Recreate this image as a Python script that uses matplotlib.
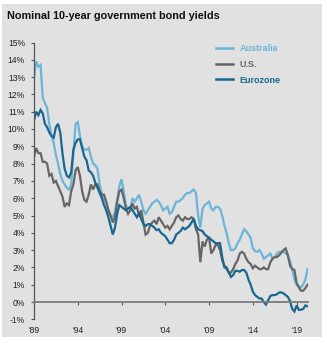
import numpy as np
import matplotlib
matplotlib.use("Agg")
import matplotlib.pyplot as plt
from matplotlib.patches import Rectangle

plt.rcParams['font.family'] = ['Liberation Sans', 'DejaVu Sans']

# quarterly 10-year yields (%), first quarter of 1989 onward
australia = [13.0, 13.9, 13.6, 13.7, 11.8, 11.5, 11.2, 10.3, 9.6, 9.2, 8.5, 8.0,
             7.4, 7.0, 6.8, 6.6, 6.5, 6.8, 8.6, 10.3, 10.4, 9.6, 9.0, 8.8,
             8.8, 8.9, 8.4, 8.0, 7.9, 7.7, 6.8, 6.3, 5.9, 5.7, 5.3, 5.0,
             4.9, 5.2, 5.9, 6.7, 7.1, 6.4, 5.6, 5.4, 5.4, 6.0, 5.8, 6.0,
             6.2, 5.8, 5.3, 5.1, 5.3, 5.5, 5.7, 5.8, 5.9, 5.8, 5.6, 5.3,
             5.4, 5.5, 5.1, 5.2, 5.5, 5.8, 5.8, 5.9, 6.0, 6.2, 6.3, 6.3,
             6.4, 6.5, 6.3, 5.0, 4.3, 5.4, 5.6, 5.7, 5.8, 5.4, 5.3, 5.5,
             5.5, 5.4, 5.0, 4.4, 4.0, 3.4, 3.0, 3.0, 3.1, 3.4, 3.6, 3.9,
             4.2, 4.1, 3.9, 3.7, 3.1, 2.95, 2.9, 3.0, 2.8, 2.5, 2.6, 2.7,
             2.8, 2.5, 2.6, 2.8, 2.9, 2.9, 2.9, 2.8, 2.7, 2.35, 1.9, 1.3,
             1.0, 0.9, 0.85, 1.0, 1.3, 1.9]
us = [8.4, 8.9, 8.6, 8.6, 8.1, 8.1, 8.0, 7.3, 7.4, 6.9, 7.0, 6.7,
      6.4, 6.1, 5.5, 5.7, 5.6, 6.4, 6.8, 7.6, 7.8, 7.3, 6.4, 5.9,
      5.8, 6.2, 6.8, 6.5, 6.8, 6.8, 6.4, 6.2, 6.2, 5.8, 5.3, 5.0,
      4.6, 4.9, 5.8, 6.4, 6.5, 6.0, 5.4, 5.1, 5.3, 5.7, 5.4, 5.5,
      5.0, 5.3, 4.6, 3.9, 4.0, 4.4, 4.6, 4.7, 4.5, 4.9, 4.7, 4.5,
      4.3, 4.4, 4.2, 4.4, 4.6, 4.9, 5.0, 4.8, 4.7, 4.9, 4.8, 4.8,
      4.9, 4.8, 4.2, 3.9, 2.3, 3.5, 3.2, 3.6, 3.7, 2.8, 3.0, 3.3,
      3.3, 3.0, 2.4, 2.1, 1.9, 1.7, 1.7, 1.9, 2.2, 2.4, 2.8, 2.9,
      2.8, 2.5, 2.3, 2.2, 1.95, 2.1, 2.0, 1.9, 1.9, 2.0, 1.9, 1.9,
      2.3, 2.5, 2.6, 2.6, 2.7, 2.85, 3.0, 3.1, 2.7, 2.1, 1.9, 1.85,
      1.1, 0.85, 0.65, 0.65, 0.8, 1.0]
eurozone = [10.5, 11.0, 10.8, 11.1, 10.9, 10.3, 10.1, 9.8, 9.6, 9.5, 10.1, 10.3,
            9.8, 8.6, 7.7, 7.3, 7.2, 7.5, 8.8, 9.2, 9.4, 9.4, 8.9, 8.4,
            8.2, 7.6, 7.5, 7.3, 6.9, 6.6, 6.3, 6.0, 5.6, 5.3, 4.9, 4.4,
            3.9, 4.3, 5.1, 5.6, 5.5, 5.4, 5.3, 5.4, 5.5, 5.3, 5.1, 4.9,
            5.1, 4.8, 4.5, 4.4, 4.5, 4.5, 4.4, 4.3, 4.15, 4.2, 4.0, 3.9,
            3.8, 3.6, 3.4, 3.4, 3.6, 3.9, 4.0, 4.1, 4.3, 4.2, 4.3, 4.4,
            4.6, 4.8, 4.4, 4.2, 4.15, 4.1, 3.9, 3.8, 3.7, 3.6, 3.5, 3.4,
            3.4, 3.4, 2.6, 2.0, 2.0, 1.7, 1.45, 1.55, 1.8, 1.8, 1.75, 1.85,
            1.85, 1.7, 1.3, 1.0, 0.6, 0.4, 0.3, 0.2, 0.2, 0.0, -0.15, 0.1,
            0.35, 0.4, 0.4, 0.45, 0.55, 0.55, 0.5, 0.4, 0.3, 0.05, -0.4, -0.55,
            -0.2, -0.45, -0.45, -0.4, -0.2, -0.25]

series_names = ["Australia", "U.S.", "Eurozone"]
series_colors = ["#6cb4d8", "#666666", "#17678f"]
year_ticks = [1989, 1994, 1999, 2004, 2009, 2014, 2019]
yield_ticks = list(range(-1, 16))

quarters = 1989 + 0.25 * np.arange(len(australia))

fig = plt.figure(figsize=(3.27, 3.44), dpi=100, facecolor="white")
fig.patches.append(Rectangle((2 / 327, 7 / 344), 320 / 327, 333 / 344,
                             transform=fig.transFigure, facecolor="#e1e1e1",
                             edgecolor="none", zorder=-10))

ax = fig.add_axes([34 / 327, 1 - 319.3 / 344, 274 / 327, 276.8 / 344])
ax.set_facecolor("none")

for name, vals, col in zip(series_names, [australia, us, eurozone], series_colors):
    ax.plot(quarters, vals, color=col, lw=1.6, label=name, solid_joinstyle="miter")

ax.set_xlim(1989, 2020.3)
ax.set_ylim(-1, 15)

ax.spines["top"].set_visible(False)
ax.spines["right"].set_visible(False)
ax.spines["left"].set_color("#555555")
ax.spines["left"].set_linewidth(0.9)
ax.spines["bottom"].set_position(("data", 0))
ax.spines["bottom"].set_color("#7a7a7a")
ax.spines["bottom"].set_linewidth(1.3)

ax.set_yticks(yield_ticks)
ax.set_yticklabels(["%d%%" % v for v in yield_ticks])
ax.set_xticks(year_ticks)
ax.set_xticklabels(["'%02d" % (y % 100) for y in year_ticks])
ax.tick_params(axis="y", direction="out", length=2.5, width=0.8, color="#555555",
               pad=4, labelsize=6.2, labelcolor="#222222")
ax.tick_params(axis="x", direction="out", length=2, width=0.8, color="#555555",
               pad=15, labelsize=6.2, labelcolor="#222222")

fig.text(7 / 327, 1 - 16 / 344, "Nominal 10-year government bond yields",
         fontsize=7.8, fontweight="bold", color="#111111", va="center", ha="left")

leg = ax.legend(loc="upper left", bbox_to_anchor=(216 / 327, 1 - 44 / 344),
                bbox_transform=fig.transFigure, frameon=False,
                handlelength=1.9, handletextpad=0.7, labelspacing=0.75,
                labelcolor="linecolor", prop={"size": 6.5, "weight": "bold"},
                borderpad=0, borderaxespad=0)
for line in leg.get_lines():
    line.set_linewidth(1.8)

fig.savefig("out.png", dpi=100, facecolor=fig.get_facecolor())
